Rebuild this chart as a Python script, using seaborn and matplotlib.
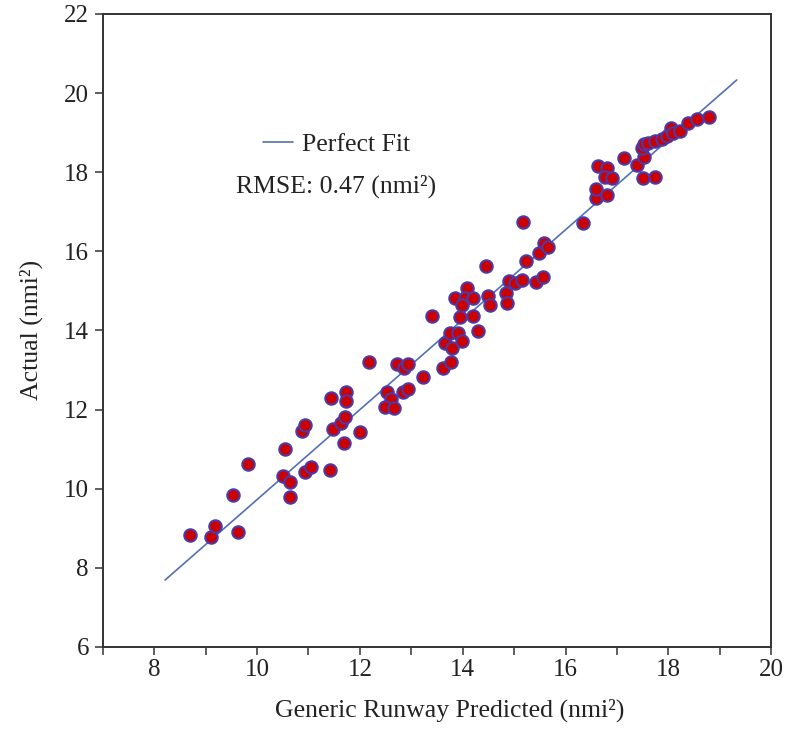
import matplotlib
matplotlib.use("Agg")
import matplotlib.pyplot as plt
from matplotlib.ticker import MultipleLocator
import seaborn as sns
import pandas as pd

# Predicted vs. actual runway area (nmi^2)
predicted = [8.69, 9.10, 9.19, 9.63, 9.54, 9.82, 10.50, 10.65, 10.65, 10.55,
             10.93, 11.05, 11.42, 10.87, 10.93, 11.47, 11.64, 11.70, 11.71, 12.01,
             11.44, 11.73, 11.73, 12.18, 12.53, 12.60, 12.49, 12.66, 12.84, 12.93,
             12.72, 12.86, 12.93, 13.22, 13.62, 13.77, 13.41, 13.65, 13.80, 13.75,
             13.90, 13.99, 13.95, 14.19, 14.30, 13.85, 14.08, 14.05, 14.19, 13.99,
             14.45, 14.50, 14.53, 14.85, 14.87, 14.90, 15.02, 15.15, 15.42, 15.57,
             15.24, 15.48, 15.59, 15.65, 15.18, 16.33, 16.59, 16.59, 16.80, 16.64,
             16.81, 16.77, 16.90, 17.13, 17.39, 17.50, 17.73, 17.53, 17.48, 17.53,
             17.61, 17.74, 17.87, 17.97, 18.05, 18.08, 18.23, 18.39, 18.55, 18.79]
actual = [8.84, 8.77, 9.06, 8.91, 9.83, 10.62, 10.32, 10.18, 9.80, 11.00,
          10.41, 10.54, 10.47, 11.47, 11.60, 11.51, 11.67, 11.15, 11.82, 11.43,
          12.29, 12.45, 12.22, 13.19, 12.45, 12.26, 12.07, 12.03, 12.44, 12.53,
          13.15, 13.04, 13.15, 12.82, 13.06, 13.20, 14.37, 13.68, 13.55, 13.93,
          13.93, 13.74, 14.33, 14.37, 13.99, 14.82, 15.06, 14.83, 14.82, 14.63,
          15.64, 14.87, 14.63, 14.94, 14.70, 15.24, 15.19, 15.28, 15.23, 15.34,
          15.76, 15.95, 16.20, 16.12, 16.74, 16.72, 17.34, 17.58, 17.41, 18.16,
          18.10, 17.89, 17.86, 18.35, 18.17, 17.86, 17.89, 18.39, 18.61, 18.71,
          18.73, 18.79, 18.84, 18.92, 19.11, 18.98, 19.05, 19.24, 19.35, 19.39]

# Reference line endpoints
fit_x = [8.21, 19.33]
fit_y = [7.69, 20.33]

rmse = 0.47
x_ticks = [8, 10, 12, 14, 16, 18, 20]
y_ticks = [6, 8, 10, 12, 14, 16, 18, 20, 22]

sns.set_theme(style="white")
plt.rcParams["font.family"] = ["Liberation Serif", "DejaVu Serif"]

df = pd.DataFrame({"predicted": predicted, "actual": actual})
fit = pd.DataFrame({"x": fit_x, "y": fit_y})

fig = plt.figure(figsize=(7.91, 7.31), dpi=100)
ax = fig.add_axes([0.130, 0.115, 0.845, 0.866])

sns.lineplot(data=fit, x="x", y="y", ax=ax, color="#5470b4", linewidth=1.2,
             label="Perfect Fit", zorder=2)
sns.scatterplot(data=df, x="predicted", y="actual", ax=ax, s=80,
                color="#cc0000", edgecolor="#4b3aa8", linewidth=1.5,
                zorder=3, legend=False)

ax.set_xlim(7, 20)
ax.set_ylim(6, 22)
ax.set_xticks(x_ticks)
ax.set_yticks(y_ticks)
ax.xaxis.set_minor_locator(MultipleLocator(1))
ax.tick_params(axis="both", which="both", direction="out", length=6, width=1.1,
               color="#333333", labelsize=18, labelcolor="#222222", pad=3)
ax.tick_params(axis="x", which="minor", bottom=True, length=6)
ax.tick_params(axis="x", which="major", bottom=True)
ax.tick_params(axis="y", which="major", left=True, pad=4)

for sp in ax.spines.values():
    sp.set_visible(True)
    sp.set_color("#333333")
    sp.set_linewidth(1.4)

ax.set_xlabel("Generic Runway Predicted (nmi²)", fontsize=18.5, color="#222222")
ax.xaxis.set_label_coords(0.519, -0.081)
ax.set_ylabel("Actual (nmi²)", fontsize=18.5, color="#222222", labelpad=15)

leg = ax.legend(loc="center left", bbox_to_anchor=(0.239, 0.793), frameon=False,
                fontsize=18.5, handlelength=1.2, handletextpad=0.35,
                borderpad=0, borderaxespad=0)
for t in leg.get_texts():
    t.set_color("#222222")
ax.text(0.199, 0.727, f"RMSE: {rmse:.2f} (nmi²)", transform=ax.transAxes,
        fontsize=18.5, color="#222222", va="center", ha="left")

fig.savefig("out.png", dpi=100)
